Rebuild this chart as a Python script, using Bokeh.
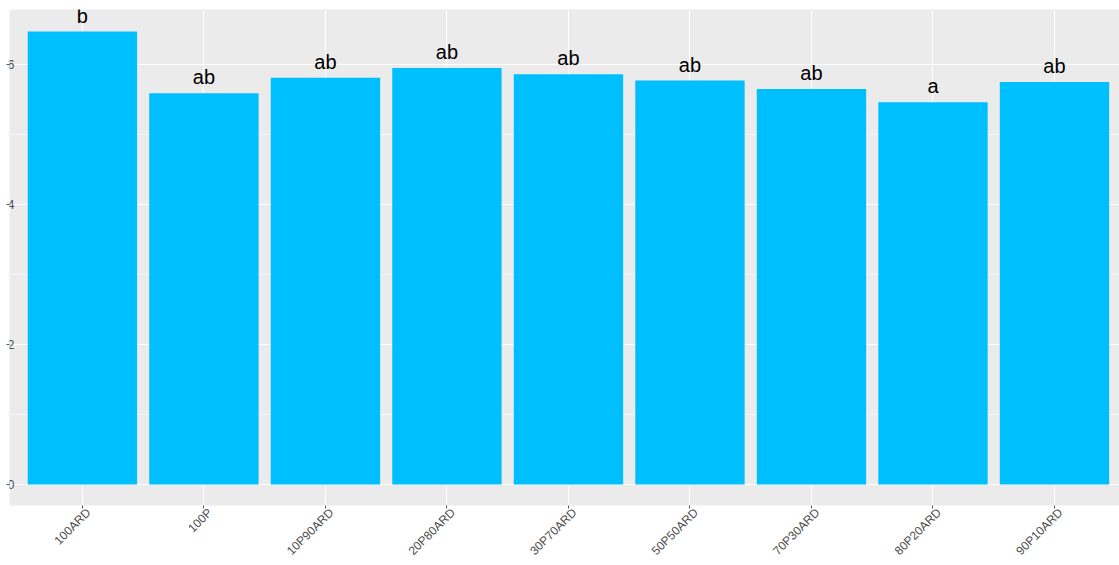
import math
from bokeh.plotting import figure
from bokeh.models import (ColumnDataSource, Range1d, FixedTicker, Label,
                          LinearAxis)
from bokeh.embed import file_html
from bokeh.resources import INLINE

# Treatments, mean values and significance letters
categories = ["100ARD", "100P", "10P90ARD", "20P80ARD", "30P70ARD",
              "50P50ARD", "70P30ARD", "80P20ARD", "90P10ARD"]
values = [6.47, 5.59, 5.81, 5.95, 5.86, 5.77, 5.65, 5.46, 5.75]
letters = ["b", "ab", "ab", "ab", "ab", "ab", "ab", "a", "ab"]
y_ticks = [0, 2, 4, 6]

FONT = "Liberation Sans"
PANEL = "#EBEBEB"
AXIS_TEXT = "#4D4D4D"
BAR = "#00BFFF"
TICK = "#555555"

positions = list(range(len(categories)))
source = ColumnDataSource(dict(x=positions, top=values, label=letters))

p = figure(width=1119, height=565,
           x_range=Range1d(-0.6, 8.535), y_range=Range1d(-0.3, 6.786),
           output_backend="svg", toolbar_location=None,
           min_border_left=9, min_border_right=0, min_border_top=9,
           min_border_bottom=0)
p.background_fill_color = PANEL
p.border_fill_color = "white"
p.outline_line_color = None

p.vbar(x="x", top="top", bottom=0, width=0.9, source=source,
       fill_color=BAR, line_color=None)
p.text(x="x", y="top", text="label", source=source,
       text_align="center", text_baseline="alphabetic", y_offset=-16,
       text_font_size="20px", text_font={"value": FONT}, text_color="black")

# grid
p.xgrid.ticker = FixedTicker(ticks=positions)
p.xgrid.grid_line_color = "white"
p.xgrid.grid_line_width = 1.1
p.ygrid.ticker = FixedTicker(ticks=y_ticks, minor_ticks=[1, 3, 5])
p.ygrid.grid_line_color = "white"
p.ygrid.grid_line_width = 1.1
p.ygrid.minor_grid_line_color = "white"
p.ygrid.minor_grid_line_width = 0.6

# x axis: tick marks on the main axis
xa = p.xaxis[0]
xa.ticker = FixedTicker(ticks=positions)
xa.major_label_text_font_size = "1px"
xa.major_label_text_alpha = 0
xa.major_label_standoff = 0
xa.major_tick_in = 0
xa.major_tick_out = 3
xa.major_tick_line_color = TICK
xa.minor_tick_line_color = None
xa.axis_line_color = None

# category names on a companion axis, set slightly right as hjust=1 text does
p.extra_x_ranges = {"names": Range1d(-0.65, 8.485)}
names_axis = LinearAxis(x_range_name="names",
                        ticker=FixedTicker(ticks=positions, minor_ticks=[]))
names_axis.major_label_overrides = {i: c for i, c in enumerate(categories)}
names_axis.major_label_orientation = math.pi / 4
names_axis.major_label_text_font = FONT
names_axis.major_label_text_font_size = "12px"
names_axis.major_label_text_color = AXIS_TEXT
names_axis.major_label_standoff = 2
names_axis.major_tick_in = 0
names_axis.major_tick_out = 0
names_axis.major_tick_line_color = None
names_axis.minor_tick_line_color = None
names_axis.axis_line_color = None
p.add_layout(names_axis, "below")

# y axis: ticks only; labels run off the left edge of the canvas
ya = p.yaxis[0]
ya.ticker = FixedTicker(ticks=y_ticks, minor_ticks=[])
ya.major_label_text_font_size = "1px"
ya.major_label_text_alpha = 0
ya.major_label_standoff = 0
ya.major_tick_in = 0
ya.major_tick_out = 3
ya.major_tick_line_color = TICK
ya.minor_tick_line_color = None
ya.axis_line_color = None

for t in y_ticks:
    p.add_layout(Label(x=5, x_units="screen", y=t, y_units="data",
                       text=str(t), text_align="right", text_baseline="middle",
                       text_font=FONT, text_font_size="12px",
                       text_color=AXIS_TEXT))

open("out.html", "w").write(file_html(p, INLINE))
